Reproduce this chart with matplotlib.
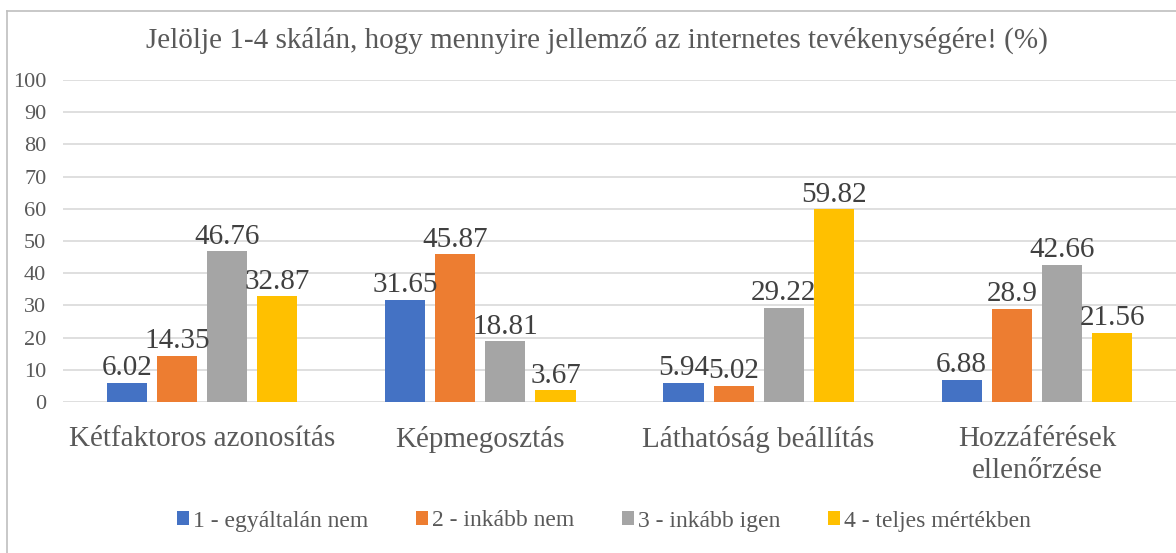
import numpy as np
import matplotlib
matplotlib.use('Agg')
import matplotlib.pyplot as plt
from matplotlib.lines import Line2D

plt.rcParams['font.family'] = ['Liberation Serif', 'DejaVu Serif']

categories = ['Kétfaktoros azonosítás', 'Képmegosztás', 'Láthatóság beállítás',
              'Hozzáférések\nellenőrzése']
series = ['1 - egyáltalán nem', '2 - inkább nem', '3 - inkább igen', '4 - teljes mértékben']
values = [
    [6.02, 31.65, 5.94, 6.88],
    [14.35, 45.87, 5.02, 28.9],
    [46.76, 18.81, 29.22, 42.66],
    [32.87, 3.67, 59.82, 21.56],
]
colors = ['#4472c4', '#ed7d31', '#a5a5a5', '#ffc000']

W, H = 1176, 553
fig = plt.figure(figsize=(W / 100, H / 100), dpi=100)
ax = fig.add_axes([63 / W, (H - 402) / H, (W - 63) / W, (402 - 80) / H])

x = np.arange(len(categories))
width = 0.144
step = 0.18
for i, (name, vals, c) in enumerate(zip(series, values, colors)):
    pos = x + (i - 1.5) * step
    bars = ax.bar(pos, vals, width, color=c, label=name, zorder=3)
    for b, v in zip(bars, vals):
        ax.text(b.get_x() + b.get_width() / 2, v + 0.5, f'{v:g}',
                ha='center', va='bottom', fontsize=21, color='#404040', zorder=4)

ax.set_xlim(-0.5, 3.5)
ax.set_ylim(0, 100)
ax.set_yticks(range(0, 101, 10))
ax.grid(axis='y', color='#d9d9d9', linewidth=1.2, zorder=0)
for s in ax.spines.values():
    s.set_visible(False)
ax.tick_params(axis='y', length=0, pad=12, labelsize=16, labelcolor='#595959')
ax.tick_params(axis='x', length=0, pad=17, labelsize=21, labelcolor='#595959')
ax.set_xticks(x)
ax.set_xticklabels(categories, linespacing=1.3)

fig.text(0.508, 1 - 40 / H, 'Jelölje 1-4 skálán, hogy mennyire jellemző az internetes tevékenységére! (%)',
         ha='center', va='center', fontsize=21, color='#595959')

fig.legend(loc='center', bbox_to_anchor=(604 / W, 1 - 521 / H), ncol=4, frameon=False,
           fontsize=17, labelcolor='#595959', handlelength=0.5, handleheight=0.5,
           handletextpad=0.2, columnspacing=2.0)

fig.add_artist(Line2D([7 / W, 7 / W], [0, 1 - 11 / H], transform=fig.transFigure,
                      color='#bfbfbf', linewidth=1.2))
fig.add_artist(Line2D([7 / W, 1], [1 - 11 / H, 1 - 11 / H], transform=fig.transFigure,
                      color='#bfbfbf', linewidth=1.2))

fig.savefig('out.png', dpi=100)
